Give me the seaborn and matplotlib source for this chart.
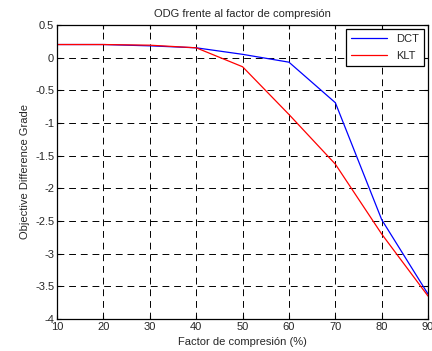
import matplotlib
matplotlib.use("Agg")
import matplotlib.pyplot as plt
import seaborn as sns
import pandas as pd

factor = [10, 20, 30, 40, 50, 60, 70, 80, 90]
dct = [0.20, 0.20, 0.18, 0.15, 0.05, -0.07, -0.69, -2.48, -3.62]
klt = [0.20, 0.20, 0.19, 0.15, -0.14, -0.87, -1.63, -2.70, -3.65]

df = pd.DataFrame({
    "factor": factor * 2,
    "odg": dct + klt,
    "metodo": ["DCT"] * len(factor) + ["KLT"] * len(factor),
})

sns.set_style("white")
plt.rcParams["font.family"] = ["Liberation Sans", "DejaVu Sans"]

fig = plt.figure(figsize=(4.32, 3.51), dpi=100)
ax = fig.add_axes([0.132, 0.091, 0.859, 0.838])
sns.lineplot(data=df, x="factor", y="odg", hue="metodo",
             palette={"DCT": "#0000ff", "KLT": "#ff0000"}, linewidth=0.9, ax=ax)

ax.set_xlim(10, 90)
ax.set_ylim(-4, 0.5)
ax.set_xticks(range(10, 91, 10))
ax.set_yticks([-4, -3.5, -3, -2.5, -2, -1.5, -1, -0.5, 0, 0.5])
ax.set_yticklabels(["-4", "-3.5", "-3", "-2.5", "-2", "-1.5", "-1", "-0.5", "0", "0.5"])
ax.grid(True, color="black", linestyle=(0, (7, 5)), linewidth=0.7)
ax.tick_params(direction="in", length=3, labelsize=8, top=True, right=True,
               bottom=True, left=True, color="black", pad=2)
for s in ax.spines.values():
    s.set_color("black")
    s.set_linewidth(0.9)
ax.set_xlabel("Factor de compresión (%)", fontsize=8, labelpad=4)
ax.set_ylabel("Objective Difference Grade", fontsize=8, labelpad=4)
ax.set_title("ODG frente al factor de compresión", fontsize=8, pad=6)

leg = ax.legend(loc="upper right", fontsize=8, frameon=True, fancybox=False,
                edgecolor="black", framealpha=1, borderaxespad=0.4,
                handlelength=3.2, borderpad=0.45, labelspacing=0.6)
leg.get_frame().set_linewidth(0.9)

fig.savefig("out.png", dpi=100)
